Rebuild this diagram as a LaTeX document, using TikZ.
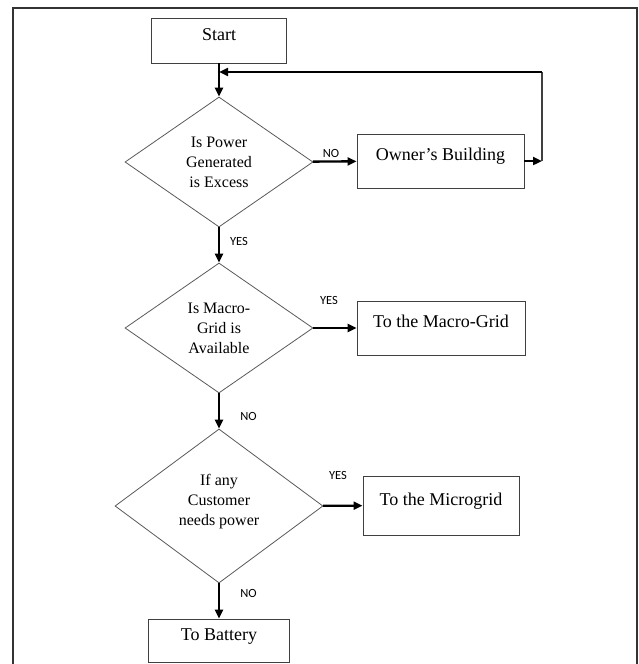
\documentclass[tikz,border=0pt]{standalone}
\usepackage{fontspec}
\setmainfont{Liberation Serif}
\newfontfamily\labelfont{Carlito}
\usetikzlibrary{arrows.meta, positioning, shapes.geometric}

\begin{document}
\begin{tikzpicture}[x=1pt, y=-1pt,
		box/.style={draw=black!75, line width=0.9pt, rectangle, font=\fontsize{18}{22}\selectfont,
			text height=12pt, text depth=13pt},
		decision/.style={draw=black!65, line width=0.8pt, diamond, aspect=1.45, inner sep=0pt,
			align=center, font=\fontsize{16}{20}\selectfont},
		flow/.style={line width=2.4pt, -{Triangle[length=9pt, width=8pt]}},
		lbl/.style={font=\labelfont\fontsize{12.5}{13}\selectfont}]
	\useasboundingbox (0,0) rectangle (638,664);

	% Draw the frame
	\draw[black!80, line width=1.3pt] (13,670) -- (13,8) -- (637,8) -- (637,670);

	% Draw the boxes and the decisions
	\node[box, minimum width=135, minimum height=45] (start) at (219,40.5) {Start};
	\node[decision, minimum width=188, minimum height=130] (power) at (219,162)
		{Is Power\\Generated\\is Excess};
	\node[box, minimum width=167, minimum height=54] (owner) at (440.5,161) {Owner’s Building};
	\node[decision, minimum width=188, minimum height=130] (macro) at (219,328)
		{Is Macro-\\Grid is\\Available};
	\node[box, minimum width=168, minimum height=54] (tomacro) at (441,328) {To the Macro-Grid};
	\node[decision, minimum width=208, minimum height=154] (customer) at (219,506)
		{If any\\Customer\\needs power\\[-8pt]};
	\node[box, minimum width=156, minimum height=59] (tomicro) at (441,505.5) {To the Microgrid};
	\node[box, minimum width=141, minimum height=43] (battery) at (219,640.5) {To Battery};

	% Draw the feedback loop
	\coordinate (loopend) at (542,161);
	\coordinate (loopcorner) at (542,72);
	\draw[flow] (owner) -- (loopend);
	\draw[black!75, line width=1.3pt] (loopend) -- (loopcorner);
	\draw[flow] (loopcorner) -- (start.south |- loopcorner);

	% Draw the arrows between the steps
	\draw[flow] (start) -- (power);
	\draw[flow] (power) -- (owner);
	\draw[flow] (power) -- (macro);
	\draw[flow] (macro) -- (tomacro);
	\draw[flow] (macro) -- (customer);
	\draw[flow] (customer) -- (tomicro);
	\draw[flow] (customer) -- (battery);

	% Draw the answers
	\node[lbl] (no1) at (331,153) {NO};
	\node[lbl] (yes1) at (239,241) {YES};
	\node[lbl] (yes2) at (329,300) {YES};
	\node[lbl] (no2) at (248.5,416) {NO};
	\node[lbl] (yes3) at (338,475) {YES};
	\node[lbl] (no3) at (248.5,593) {NO};
\end{tikzpicture}
\end{document}
